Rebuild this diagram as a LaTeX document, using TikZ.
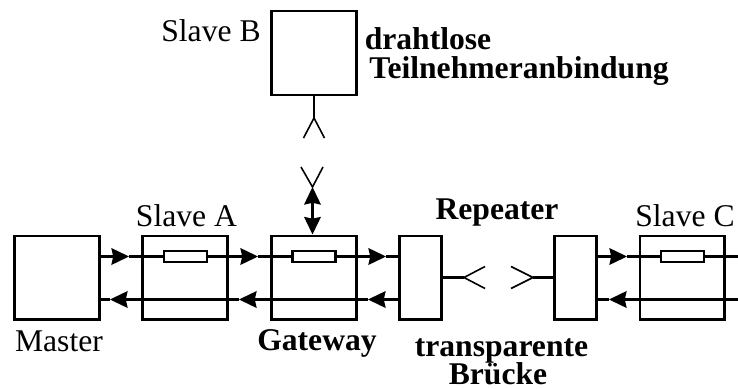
\documentclass[tikz,border=0pt]{standalone}
\usepackage{fontspec}
\setmainfont{Liberation Serif}
\usetikzlibrary{arrows.meta, positioning, calc}

\begin{document}
\begin{tikzpicture}[x=0.02cm, y=-0.02cm, line width=1.15pt,
    >={Stealth[length=10pt, width=9.5pt, inset=1pt]},
    station/.style={rectangle, draw, minimum width=1.7cm, minimum height=1.68cm, inner sep=0pt},
    repeater/.style={rectangle, draw, minimum width=0.84cm, minimum height=1.68cm, inner sep=0pt},
    widerstand/.style={rectangle, draw, fill=white, minimum width=0.86cm, minimum height=0.22cm, inner sep=0pt},
    schrift/.style={anchor=base, inner sep=0pt, font=\fontsize{18}{20}\selectfont},
    fett/.style={schrift, font=\fontsize{18}{20}\selectfont\bfseries},
    antenne/.style={line width=0.9pt}]
  \useasboundingbox (0,0) rectangle (738,389);

  \node[station] (Master) at (57,277.5) {};
  \node[station] (SlaveA) at (185,277.5) {};
  \node[station] (Gateway) at (314,277.5) {};
  \node[repeater] (RepL) at (420.5,277.5) {};
  \node[repeater] (RepR) at (575.5,277.5) {};
  \node[station] (SlaveC) at (682,277.5) {};
  \node[station] (SlaveB) at (314,53) {};

  \coordinate (Mo) at (100,256.5);
  \coordinate (Mu) at (100,299.5);
  \coordinate (Ro) at (738,256.5);
  \coordinate (Ru) at (738,299.5);
  \coordinate (T1) at (129,256.5);
  \coordinate (T2) at (258,256.5);
  \coordinate (T3) at (386,256.5);
  \coordinate (T4) at (627,256.5);
  \coordinate (T5) at (110,299.5);
  \coordinate (T6) at (239,299.5);
  \coordinate (T7) at (368,299.5);
  \coordinate (T8) at (609,299.5);
  \coordinate (Lo) at (399,256.5);
  \coordinate (Lu) at (399,299.5);
  \coordinate (Ho) at (597,256.5);
  \coordinate (Hu) at (597,299.5);

  % Hinleitung
  \draw[->] (Mo) -- (T1);
  \draw[->] (T1) -- (T2);
  \draw[->] (T2) -- (T3);
  \draw (T3) -- (Lo);
  \draw[->] (Ho) -- (T4);
  \draw (T4) -- (Ro);

  % Rueckleitung
  \draw[->] (T6) -- (T5);
  \draw (T5) -- (Mu);
  \draw[->] (T7) -- (T6);
  \draw[->] (Lu) -- (T7);
  \draw[->] (Ru) -- (T8);
  \draw (T8) -- (Hu);

  \node[widerstand] (RA) at (185.5,256.5) {};
  \node[widerstand] (RG) at (314,256.5) {};
  \node[widerstand] (RC) at (682.5,256.5) {};

  % Antennen
  \coordinate (Ab) at (314,118);
  \coordinate (Ab1) at (303.5,138);
  \coordinate (Ab2) at (324.5,138);
  \coordinate (Ag) at (312.5,187);
  \coordinate (Ag1) at (301,167);
  \coordinate (Ag2) at (323,167);
  \coordinate (Al) at (464,277.5);
  \coordinate (Al1) at (485,266.5);
  \coordinate (Al2) at (485,288.5);
  \coordinate (Ar) at (533,277.5);
  \coordinate (Ar1) at (511,266.5);
  \coordinate (Ar2) at (511,288.5);

  \draw (SlaveB.south) -- (Ab);
  \draw[antenne] (Ab1) -- (Ab) -- (Ab2);
  \draw[antenne] (Ag1) -- (Ag) -- (Ag2);
  \draw[<->] (Ag) -- (Ag |- Gateway.north);
  \draw (RepL.east) -- (Al);
  \draw[antenne] (Al1) -- (Al) -- (Al2);
  \draw (RepR.west) -- (Ar);
  \draw[antenne] (Ar1) -- (Ar) -- (Ar2);

  \node[schrift] (tMaster) at (59,351) {Master};
  \node[schrift] (tSlaveA) at (186.5,226) {Slave A};
  \node[schrift] (tSlaveB) at (211,41) {Slave B};
  \node[schrift] (tSlaveC) at (685,226) {Slave C};
  \node[fett] (tGateway) at (317,350) {Gateway};
  \node[fett] (tRepeater) at (497,219) {Repeater};
  \node[fett] (tDraht) at (428,49) {drahtlose};
  \node[fett] (tTeil) at (519,78) {Teilnehmeranbindung};
  \node[fett] (tTrans) at (501.5,356) {transparente};
  \node[fett] (tBruecke) at (498,384) {Brücke};
\end{tikzpicture}
\end{document}
